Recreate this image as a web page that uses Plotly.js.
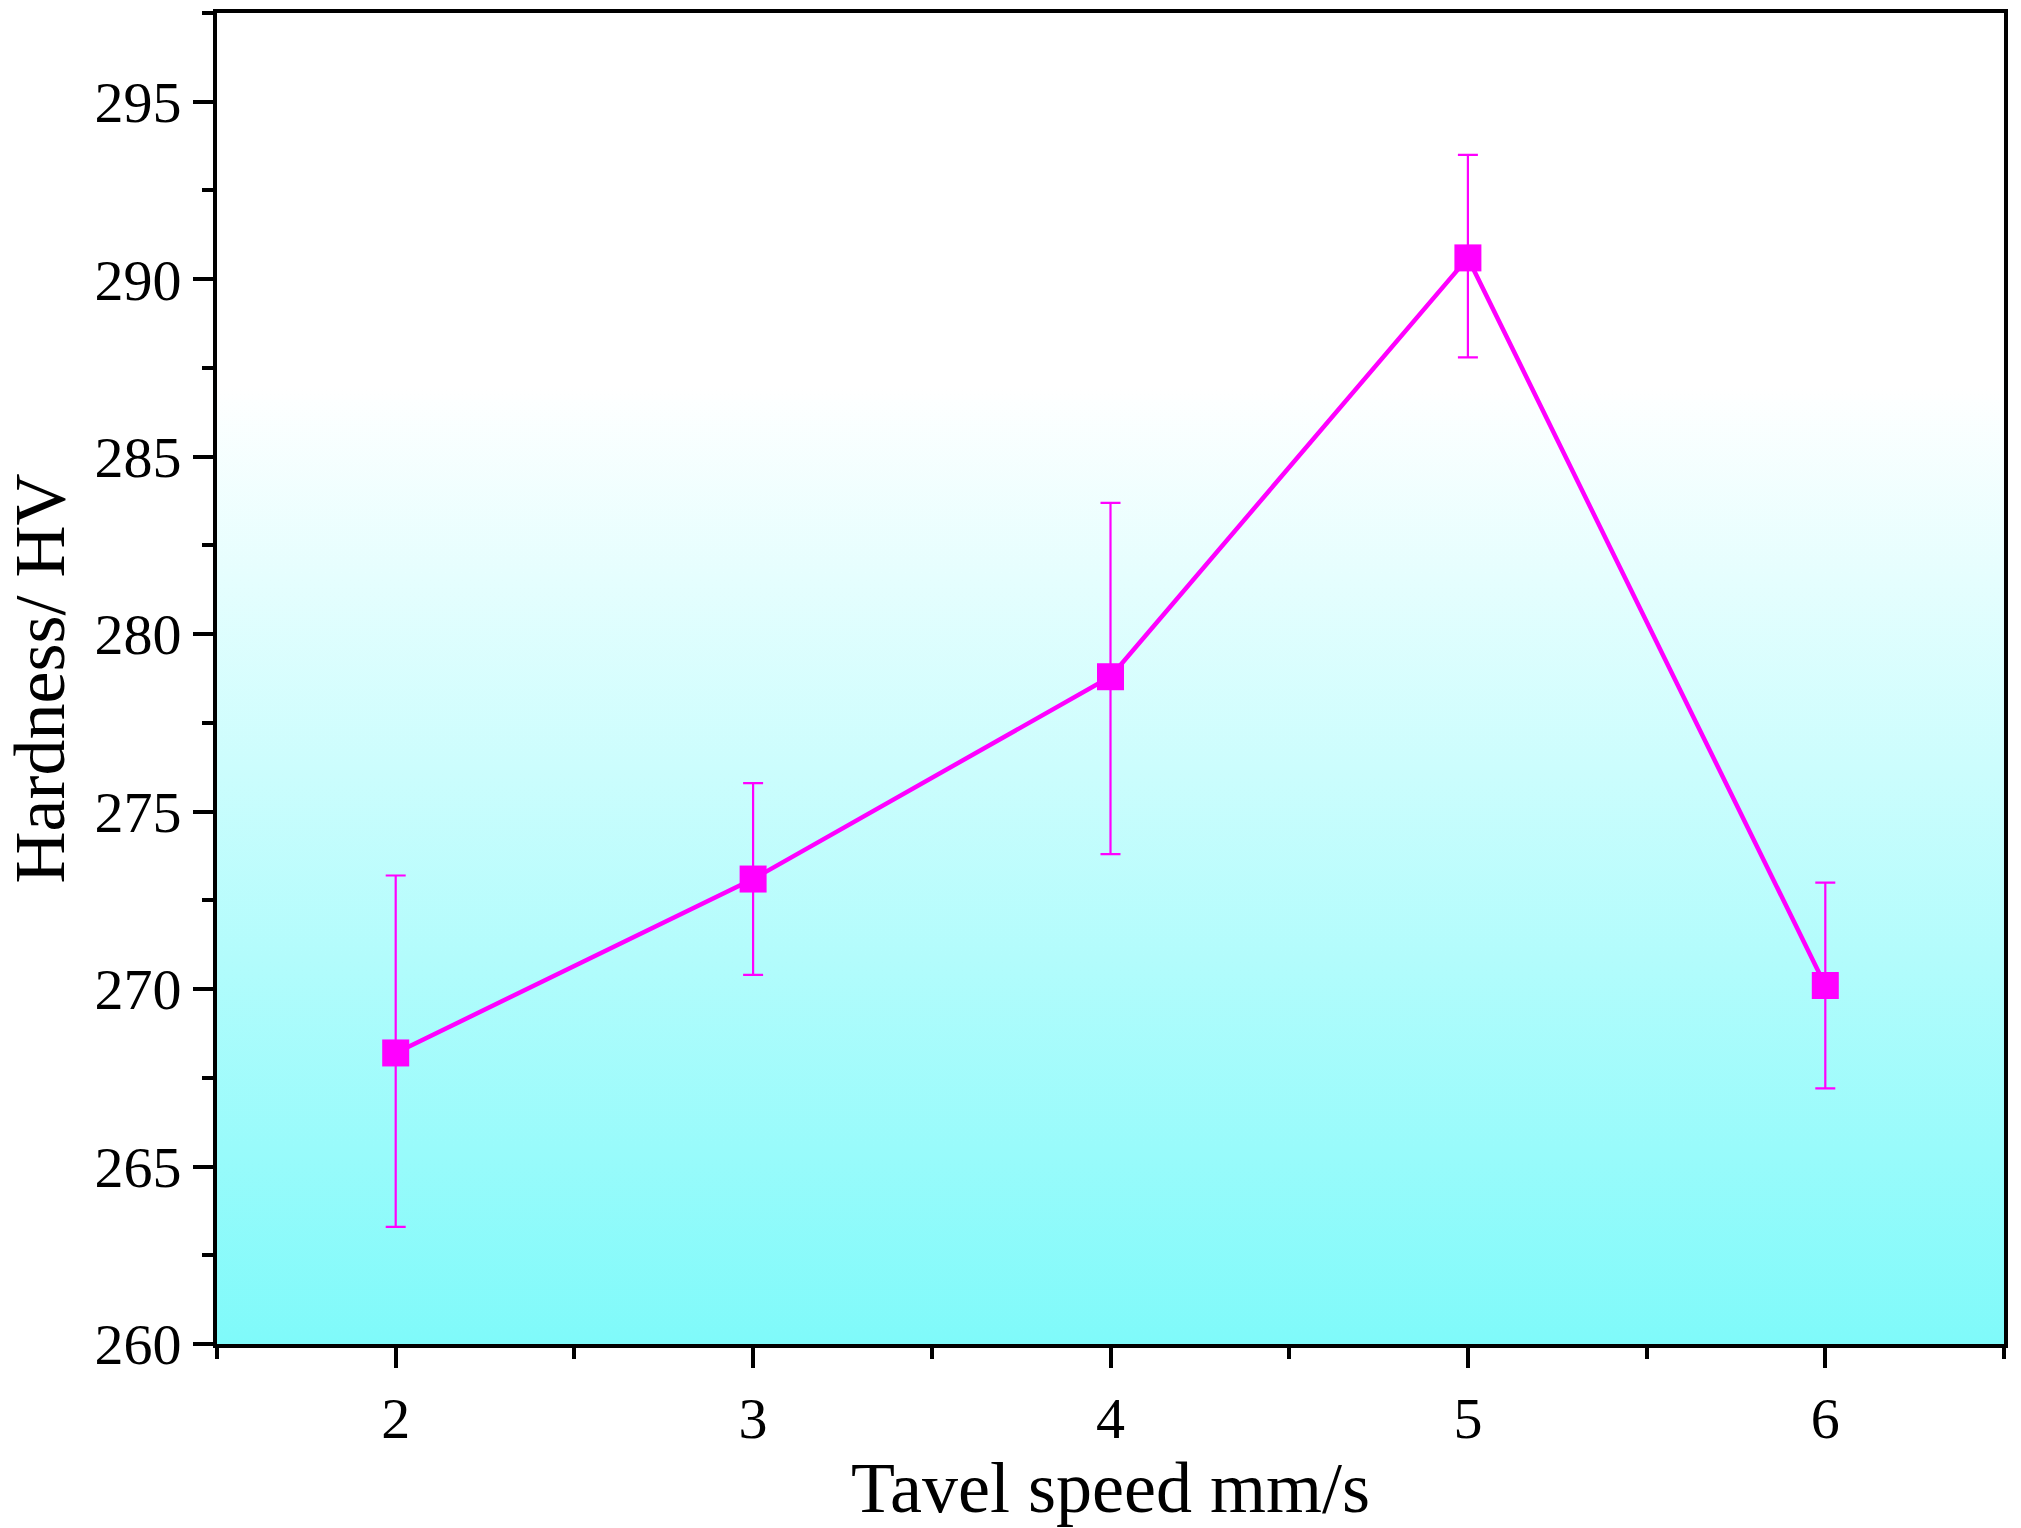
<!DOCTYPE html>
<html>
<head>
<script src="https://cdn.plot.ly/plotly-3.0.1.min.js"></script>
<style>html,body{margin:0;padding:0;background:#fff}</style>
</head>
<body>
<div id="graph" style="width:2021px;height:1528px"></div>
<script>
//DATA
var speed = [2, 3, 4, 5, 6];
var hardness = [268.2, 273.1, 278.8, 290.6, 270.1];
var errUp = [5.0, 2.7, 4.9, 2.9, 2.9];
var errDown = [4.9, 2.7, 5.0, 2.8, 2.9];

//Vertical gradient for the plot background
var grad = '<svg xmlns="http://www.w3.org/2000/svg" width="100" height="100" preserveAspectRatio="none">' +
	'<defs><linearGradient id="g" x1="0" y1="0" x2="0" y2="1">' +
	'<stop offset="0" stop-color="#ffffff"/><stop offset="0.28" stop-color="#ffffff"/>' +
	'<stop offset="1" stop-color="#7ffafa"/></linearGradient></defs>' +
	'<rect width="100" height="100" fill="url(#g)"/></svg>';

var trace = {
	x: speed, y: hardness,
	mode: 'lines+markers',
	type: 'scatter',
	line: {color: '#ff00ff', width: 4.5},
	marker: {symbol: 'square', size: 27, color: '#ff00ff'},
	error_y: {type: 'data', symmetric: false, array: errUp, arrayminus: errDown,
		color: '#ff00ff', thickness: 2.2, width: 10}
};

var font = {family: '"Liberation Serif", "Times New Roman", serif', color: '#000'};

var layout = {
	width: 2021, height: 1528,
	margin: {l: 217, r: 17, t: 13, b: 184},
	paper_bgcolor: '#fff',
	plot_bgcolor: 'rgba(0,0,0,0)',
	showlegend: false,
	font: font,
	images: [{
		source: 'data:image/svg+xml;base64,' + btoa(grad),
		xref: 'paper', yref: 'paper', x: 0, y: 1, sizex: 1, sizey: 1,
		sizing: 'stretch', layer: 'below'
	}],
	xaxis: {
		range: [1.5, 6.5], tickvals: speed, showgrid: false, zeroline: false,
		ticks: 'outside', ticklen: 20, tickwidth: 3.5, tickcolor: '#000',
		minor: {dtick: 0.5, tick0: 2.5, ticks: 'outside', ticklen: 11, tickwidth: 3.5, tickcolor: '#000'},
		showline: true, linewidth: 4, linecolor: '#000', mirror: true,
		tickfont: {size: 58, family: font.family},
		title: {text: 'Tavel speed mm/s', font: {size: 72, family: font.family}, standoff: 6}
	},
	yaxis: {
		range: [260, 297.5], tickvals: [260, 265, 270, 275, 280, 285, 290, 295],
		showgrid: false, zeroline: false,
		ticks: 'outside', ticklen: 20, tickwidth: 3.5, tickcolor: '#000',
		minor: {dtick: 2.5, tick0: 262.5, ticks: 'outside', ticklen: 11, tickwidth: 3.5, tickcolor: '#000'},
		showline: true, linewidth: 4, linecolor: '#000', mirror: true,
		tickfont: {size: 58, family: font.family},
		title: {text: 'Hardness/ HV', font: {size: 72, family: font.family}, standoff: 8}
	}
};

Plotly.newPlot('graph', [trace], layout, {displayModeBar: false});
</script>
</body>
</html>
